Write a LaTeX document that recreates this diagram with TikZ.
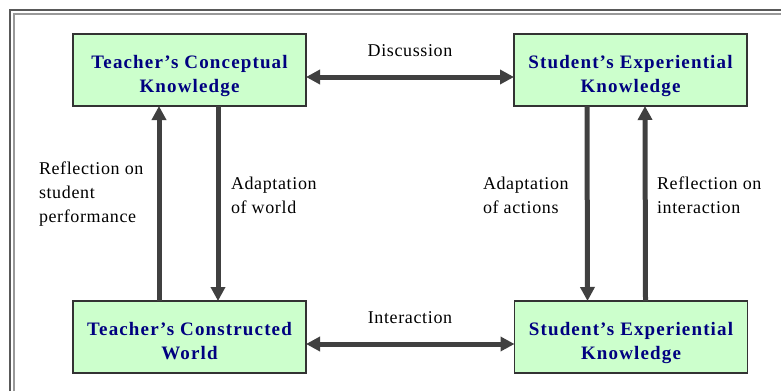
\documentclass[tikz,border=0pt]{standalone}
\usepackage{fontspec}
\setmainfont{Liberation Serif}
\newfontfamily\boxfont[LetterSpace=6]{Liberation Serif}
\newfontfamily\notefont[LetterSpace=3.5]{Liberation Serif}
\usetikzlibrary{arrows.meta}
\definecolor{boxgreen}{HTML}{CCFFCC}
\definecolor{boxtext}{HTML}{000080}
\definecolor{arrowgray}{HTML}{404040}
\begin{document}
\begin{tikzpicture}[x=1pt, y=-1pt, outer sep=0pt]

\tikzstyle{place}=[draw=black!80, line width=1.5pt, fill=boxgreen, rectangle, minimum height=72pt, minimum width=233pt, text=boxtext, font=\boxfont\fontsize{19}{24}\selectfont\bfseries, align=center, text height=48pt, text depth=4pt]
\tikzstyle{note}=[font=\notefont\fontsize{18}{24}\selectfont, align=left, anchor=west, inner sep=0pt]
\tikzstyle{tag}=[font=\notefont\fontsize{18}{24}\selectfont, inner sep=0pt]
\tikzstyle{link}=[line width=5pt, draw=arrowgray, -{Triangle[length=14pt,width=14pt]}]
\tikzstyle{both}=[line width=5pt, draw=arrowgray, {Triangle[length=14pt,width=14pt]}-{Triangle[length=14pt,width=14pt]}]

\useasboundingbox (0,0) rectangle (781,391);
\draw[color=black!65, line width=2pt] (9.5,391) -- (9.5,9.5) -- (781,9.5);
\draw[color=black!40, line width=2pt] (14,391) -- (14,14) -- (781,14);

\node[place] (tck) at (189.5,70) {Teacher’s Conceptual\\Knowledge};
\node[place] (sek1) at (630.5,70) {Student’s Experiential\\Knowledge};
\node[place] (tcw) at (189.5,337) {Teacher’s Constructed\\World};
\node[place] (sek2) at (631,337) {Student’s Experiential\\Knowledge};

\draw[both] ([yshift=-7pt]tck.east) -- ([yshift=-7pt]sek1.west);
\draw[both] ([yshift=-7pt]tcw.east) -- ([yshift=-7pt]sek2.west);
\draw[link] ([xshift=-30.5pt]tcw.north) -- ([xshift=-30.5pt]tck.south);
\draw[link] ([xshift=28.5pt]tck.south) -- ([xshift=28.5pt]tcw.north);
\draw[link] ([xshift=-43.5pt]sek1.south) -- ([xshift=-43.5pt]sek2.north);
\draw[link] ([xshift=14.5pt]sek2.north) -- ([xshift=14.5pt]sek1.south);

\node[tag] (disc) at (410,51) {Discussion};
\node[tag] (inter) at (410,318) {Interaction};
\node[note] (reflperf) at (39,194) {Reflection on\\student\\performance};
\node[note] (adworld) at (231,195) {Adaptation\\of world};
\node[note] (adact) at (483,195) {Adaptation\\of actions};
\node[note] (reflint) at (657,195) {Reflection on\\interaction};

\end{tikzpicture}
\end{document}
